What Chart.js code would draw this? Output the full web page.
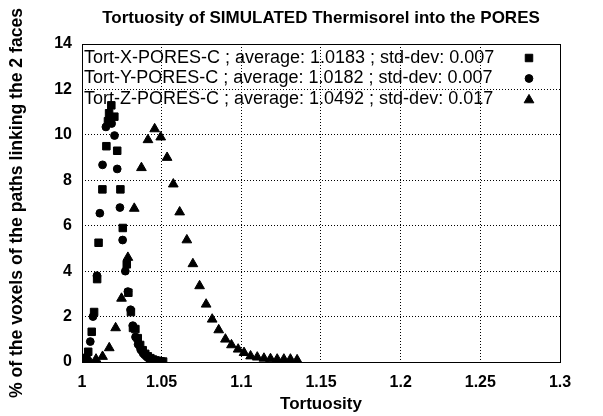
<!DOCTYPE html>
<html>
<head>
<meta charset="utf-8">
<title>Tortuosity of SIMULATED Thermisorel into the PORES</title>
<script src="https://cdn.jsdelivr.net/npm/chart.js@4.4.1/dist/chart.umd.min.js"></script>
<style>
  html, body { margin: 0; padding: 0; background: #ffffff; }
  #wrap { width: 603px; height: 416px; }
</style>
</head>
<body>
<div id="wrap"><canvas id="tortChart" width="603" height="416"></canvas></div>
<script>
// ---- data ----
const seriesNames = ['Tort-X-PORES-C', 'Tort-Y-PORES-C', 'Tort-Z-PORES-C'];
const seriesAverages = ['1.0183', '1.0182', '1.0492'];
const seriesStdDevs = ['0.007', '0.007', '0.017'];

const tortX = [1.0005, 1.0019, 1.0039, 1.0061, 1.0076, 1.0095, 1.0104, 1.0128, 1.0153, 1.0163,
               1.0170, 1.0184, 1.0203, 1.0221, 1.0241, 1.0256, 1.0281, 1.0291, 1.0307, 1.0320,
               1.0335, 1.0350, 1.0365, 1.0381, 1.0397, 1.0413, 1.0429, 1.0445, 1.0461, 1.0477,
               1.0493, 1.0509];
const pctX  = [0.05, 0.12, 0.45, 1.33, 2.2, 3.65, 5.25, 7.6, 9.5, 10.6,
               10.95, 11.3, 10.8, 9.3, 7.6, 5.9, 4.3, 3.05, 2.2, 1.5,
               1.45, 1.05, 0.75, 0.52, 0.36, 0.25, 0.17, 0.11, 0.07, 0.05,
               0.03, 0.02];

const tortY = [1.0004, 1.0022, 1.0052, 1.0069, 1.0094, 1.0112, 1.0129, 1.0150, 1.0168, 1.0186,
               1.0204, 1.0221, 1.0238, 1.0255, 1.0272, 1.0288, 1.0305, 1.0319, 1.0336, 1.0352,
               1.0368, 1.0384, 1.0400, 1.0416, 1.0432, 1.0448, 1.0464, 1.0480, 1.0496];
const pctY  = [0.03, 0.2, 0.9, 2.0, 3.8, 6.55, 8.68, 10.35, 10.6, 10.5,
               9.97, 8.5, 6.8, 5.37, 4.0, 3.1, 2.3, 1.6, 1.1, 0.78,
               0.55, 0.38, 0.27, 0.18, 0.12, 0.08, 0.05, 0.03, 0.02];

const tortZ = [1.0008, 1.0046, 1.0088, 1.0129, 1.0171, 1.0211, 1.0248, 1.0288, 1.0328, 1.0373,
               1.0414, 1.0456, 1.0494, 1.0534, 1.0573, 1.0613, 1.0658, 1.0696, 1.0738, 1.0779,
               1.0817, 1.0858, 1.0900, 1.0938, 1.0980, 1.1017, 1.1058, 1.1100, 1.1142, 1.1183,
               1.1225, 1.1267, 1.1308, 1.1350];
const pctZ  = [0.03, 0.06, 0.12, 0.24, 0.62, 1.5, 2.8, 4.6, 6.76, 8.55,
               9.78, 10.26, 9.9, 9.0, 7.83, 6.6, 5.37, 4.32, 3.35, 2.54,
               1.88, 1.41, 1.0, 0.75, 0.56, 0.41, 0.26, 0.21, 0.16, 0.14,
               0.12, 0.12, 0.12, 0.09];

const xTickValues = [1, 1.05, 1.1, 1.15, 1.2, 1.25, 1.3];
const xTickLabels = ['1', '1.05', '1.1', '1.15', '1.2', '1.25', '1.3'];
const yTickValues = [0, 2, 4, 6, 8, 10, 12, 14];
const yTickLabels = ['0', '2', '4', '6', '8', '10', '12', '14'];

const FONT = '"Liberation Sans", Arial, Helvetica, sans-serif';

function toPoints(xs, ys) {
    return xs.map((x, i) => ({ x: x, y: ys[i] }));
}

function legendText(i) {
    return seriesNames[i] + ' ; average: ' + seriesAverages[i] + ' ; std-dev: ' + seriesStdDevs[i];
}

// plot frame on all four sides (gnuplot style box)
const framePlugin = {
    id: 'frame',
    beforeDatasetsDraw(chart) {
        const a = chart.chartArea;
        const ctx = chart.ctx;
        ctx.save();
        ctx.strokeStyle = '#000';
        ctx.lineWidth = 1;
        ctx.strokeRect(Math.round(a.left) + 0.5, Math.round(a.top) + 0.5,
                       Math.round(a.right - a.left), Math.round(a.bottom - a.top));
        ctx.restore();
    }
};

// key in the top-left corner: text then marker, no box
const keyPlugin = {
    id: 'key',
    afterDatasetsDraw(chart) {
        const a = chart.chartArea;
        const ctx = chart.ctx;
        ctx.save();
        ctx.font = '18px ' + FONT;
        ctx.fillStyle = '#000';
        ctx.strokeStyle = '#000';
        ctx.textBaseline = 'middle';
        ctx.textAlign = 'left';
        chart.data.datasets.forEach((ds, i) => {
            const y = a.top + 14 + i * 20.5;
            ctx.fillText(ds.label, a.left + 2, y);
            Chart.helpers.drawPoint(ctx, {
                pointStyle: ds.pointStyle,
                radius: ds.pointRadius,
                borderWidth: 1,
                rotation: 0
            }, a.right - 31, y + (ds.pointStyle === 'triangle' ? 1 : 0));
        });
        ctx.restore();
    }
};

const markerStyles = ['rect', 'circle', 'triangle'];
const markerSizes = [5.3, 3.9, 5.6];
const seriesData = [toPoints(tortX, pctX), toPoints(tortY, pctY), toPoints(tortZ, pctZ)];

const ctx = document.getElementById('tortChart').getContext('2d');
const tortChart = new Chart(ctx, {
    type: 'scatter',
    data: {
        datasets: seriesData.map((pts, i) => ({
            label: legendText(i),
            data: pts,
            pointStyle: markerStyles[i],
            pointRadius: markerSizes[i],
            pointHoverRadius: markerSizes[i],
            pointBackgroundColor: '#000',
            pointBorderColor: '#000',
            pointBorderWidth: 1,
            showLine: false,
            order: 3 - i
        }))
    },
    options: {
        responsive: false,
        animation: false,
        devicePixelRatio: 1,
        layout: { padding: { left: 0, right: 43, top: 0, bottom: 0 } },
        plugins: {
            legend: { display: false },
            tooltip: { enabled: false },
            title: {
                display: true,
                text: 'Tortuosity of SIMULATED Thermisorel into the PORES',
                fullSize: false,
                color: '#000',
                font: { family: FONT, size: 17, weight: 'bold' },
                padding: { top: 8, bottom: 15.6 }
            }
        },
        scales: {
            x: {
                type: 'linear',
                min: 1,
                max: 1.3,
                afterBuildTicks: s => { s.ticks = xTickValues.map(v => ({ value: v })); },
                afterFit: s => { s.height = 54; },
                ticks: {
                    color: '#000',
                    font: { family: FONT, size: 16, weight: 'bold' },
                    padding: 11,
                    maxRotation: 0,
                    autoSkip: false,
                    callback: (v, i) => xTickLabels[i]
                },
                grid: { color: '#000', lineWidth: 1, drawTicks: false },
                border: { display: false, dash: [1, 2] },
                title: {
                    display: true,
                    text: 'Tortuosity',
                    color: '#000',
                    font: { family: FONT, size: 17, weight: 'bold' },
                    padding: { top: 0, bottom: 1 }
                }
            },
            y: {
                type: 'linear',
                min: 0,
                max: 14,
                afterBuildTicks: s => { s.ticks = yTickValues.map(v => ({ value: v })); },
                afterFit: s => { s.width = 82; },
                ticks: {
                    color: '#000',
                    font: { family: FONT, size: 16, weight: 'bold' },
                    padding: 10,
                    autoSkip: false,
                    callback: (v, i) => yTickLabels[i]
                },
                grid: { color: '#000', lineWidth: 1, drawTicks: false },
                border: { display: false, dash: [1, 2] },
                title: {
                    display: true,
                    text: '% of the voxels of the paths linking the 2 faces',
                    color: '#000',
                    font: { family: FONT, size: 17.6, weight: 'bold' },
                    padding: { top: 7, bottom: 0 }
                }
            }
        }
    },
    plugins: [framePlugin, keyPlugin]
});
</script>
</body>
</html>
